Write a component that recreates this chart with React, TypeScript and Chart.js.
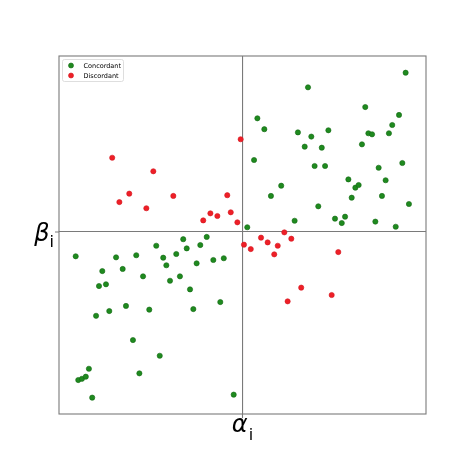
import React, { useEffect, useRef } from "react";
import { Chart, registerables } from "chart.js";

Chart.register(...registerables);

const seriesNames = ["Concordant", "Discordant"];
const seriesColors = ["#1f8a1f", "#ee1f27"];
const seriesEdges = ["#136813", "#d41820"];

const concordantX = [
  0.889, 0.357, 0.669, 0.853, 0.081, 0.816, 0.119, 0.302, 0.468, 0.375, 0.686, 0.706, 0.798,
  0.339, 0.432, 0.651, 0.063, 0.393, 0.45, 0.742, 0.871, 0.577, 0.78, 0.211, 0.615, 0.633,
  0.155, 0.595, 0.76, 0.413, 0.907, 0.284, 0.504, 0.559, 0.541, 0.724, 0.835, 0.026,
  -0.909, -0.689, -0.579, -0.47, -0.323, -0.195, -0.432, -0.361, -0.304, -0.23, -0.764,
  -0.653, -0.415, -0.25, -0.159, -0.102, -0.782, -0.744, -0.542, -0.395, -0.341, -0.286,
  -0.635, -0.726, -0.508, -0.268, -0.121, -0.798, -0.597, -0.451, -0.837, -0.895, -0.875,
  -0.854, -0.562, -0.819, -0.048,
];
const concordantY = [
  0.905, 0.822, 0.71, 0.665, 0.646, 0.608, 0.584, 0.566, 0.578, 0.542, 0.561, 0.555, 0.561,
  0.485, 0.479, 0.498, 0.409, 0.375, 0.375, 0.365, 0.392, 0.299, 0.294, 0.263, 0.252, 0.267,
  0.205, 0.195, 0.205, 0.146, 0.159, 0.064, 0.076, 0.087, 0.051, 0.059, 0.03, 0.027,
  -0.138, -0.144, -0.132, -0.078, -0.041, -0.028, -0.146, -0.125, -0.093, -0.074, -0.222,
  -0.21, -0.189, -0.178, -0.159, -0.149, -0.307, -0.297, -0.252, -0.277, -0.252, -0.326,
  -0.42, -0.449, -0.441, -0.438, -0.398, -0.476, -0.614, -0.703, -0.777, -0.841, -0.834,
  -0.822, -0.803, -0.941, -0.924,
];

const discordantX = [
  -0.71, -0.671, -0.617, -0.524, -0.486, -0.377, -0.214, -0.175, -0.137, -0.083, -0.064,
  -0.028, -0.01, 0.008, 0.045, 0.101, 0.137, 0.173, 0.192, 0.228, 0.266, 0.522, 0.32, 0.486,
  0.246,
];
const discordantY = [
  0.422, 0.17, 0.218, 0.135, 0.345, 0.205, 0.066, 0.106, 0.091, 0.209, 0.112, 0.055, 0.527,
  -0.072, -0.097, -0.032, -0.059, -0.127, -0.078, -0.002, -0.038, -0.114, -0.316, -0.358,
  -0.394,
];

const xRange = [-1, 1];
const yRange = [-1.034, 1];
const crossValue = 0;
const xLabel = ["α", "i"];
const yLabel = ["β", "i"];

const lineColor = "#7a7a7a";

const toPoints = (xs: number[], ys: number[]) => xs.map((x, i) => ({ x, y: ys[i] }));

const decorPlugin = {
  id: "decor",
  afterDraw(chart: any) {
    const { ctx, chartArea, scales } = chart;
    const xs = scales.x;
    const ys = scales.y;
    const x0 = xs.getPixelForValue(crossValue);
    const y0 = ys.getPixelForValue(crossValue);
    ctx.save();
    ctx.strokeStyle = lineColor;
    ctx.lineWidth = 1.1;
    ctx.strokeRect(chartArea.left, chartArea.top, chartArea.right - chartArea.left, chartArea.bottom - chartArea.top);
    ctx.beginPath();
    ctx.moveTo(x0, chartArea.bottom);
    ctx.lineTo(x0, chartArea.bottom + 4);
    ctx.moveTo(chartArea.left, y0);
    ctx.lineTo(chartArea.left - 4, y0);
    ctx.stroke();

    ctx.fillStyle = "#000";
    ctx.textBaseline = "alphabetic";
    ctx.font = "italic 24px 'DejaVu Sans'";
    const aW = ctx.measureText(xLabel[0]).width;
    ctx.font = "16px 'DejaVu Sans'";
    const iW = ctx.measureText(xLabel[1]).width;
    const totalX = aW + iW + 1;
    const ax = x0 - totalX / 2;
    ctx.font = "italic 24px 'DejaVu Sans'";
    ctx.textAlign = "left";
    ctx.fillText(xLabel[0], ax, chartArea.bottom + 18);
    ctx.font = "16px 'DejaVu Sans'";
    ctx.fillText(xLabel[1], ax + aW + 1, chartArea.bottom + 26);

    ctx.font = "italic 24px 'DejaVu Sans'";
    const bW = ctx.measureText(yLabel[0]).width;
    ctx.font = "16px 'DejaVu Sans'";
    const i2W = ctx.measureText(yLabel[1]).width;
    const right = chartArea.left - 5;
    ctx.fillText(yLabel[1], right - i2W, y0 + 15);
    ctx.font = "italic 24px 'DejaVu Sans'";
    ctx.fillText(yLabel[0], right - i2W - bW, y0 + 9);

    const lx = chartArea.left + 3.5;
    const ly = chartArea.top + 3.5;
    const lw = 61;
    const lh = 22;
    ctx.beginPath();
    const r = 2;
    ctx.moveTo(lx + r, ly);
    ctx.lineTo(lx + lw - r, ly);
    ctx.quadraticCurveTo(lx + lw, ly, lx + lw, ly + r);
    ctx.lineTo(lx + lw, ly + lh - r);
    ctx.quadraticCurveTo(lx + lw, ly + lh, lx + lw - r, ly + lh);
    ctx.lineTo(lx + r, ly + lh);
    ctx.quadraticCurveTo(lx, ly + lh, lx, ly + lh - r);
    ctx.lineTo(lx, ly + r);
    ctx.quadraticCurveTo(lx, ly, lx + r, ly);
    ctx.fillStyle = "rgba(255,255,255,0.8)";
    ctx.fill();
    ctx.strokeStyle = "#d6d6d6";
    ctx.lineWidth = 0.8;
    ctx.stroke();
    ctx.font = "6.5px 'DejaVu Sans'";
    ctx.textBaseline = "middle";
    seriesNames.forEach((name, i) => {
      const cy = ly + 6 + i * 10;
      ctx.beginPath();
      ctx.arc(lx + 8.5, cy, 2.5, 0, Math.PI * 2);
      ctx.fillStyle = seriesColors[i];
      ctx.fill();
      ctx.strokeStyle = seriesEdges[i];
      ctx.lineWidth = 0.6;
      ctx.stroke();
      ctx.fillStyle = "#000";
      ctx.fillText(name, lx + 21, cy + 0.5);
    });
    ctx.restore();
  },
};

export default function App() {
  const ref = useRef<HTMLCanvasElement | null>(null);
  useEffect(() => {
    if (!ref.current) return;
    const chart = new Chart(ref.current, {
      type: "scatter",
      data: {
        datasets: [
          {
            label: seriesNames[0],
            data: toPoints(concordantX, concordantY),
            backgroundColor: seriesColors[0],
            borderColor: seriesEdges[0],
            borderWidth: 0.6,
            pointRadius: 2.6,
          },
          {
            label: seriesNames[1],
            data: toPoints(discordantX, discordantY),
            backgroundColor: seriesColors[1],
            borderColor: seriesEdges[1],
            borderWidth: 0.6,
            pointRadius: 2.6,
          },
        ],
      },
      options: {
        animation: false,
        responsive: false,
        devicePixelRatio: 1,
        layout: { padding: { left: 59, top: 56, right: 48, bottom: 60 } },
        plugins: { legend: { display: false }, tooltip: { enabled: false } },
        scales: {
          x: {
            type: "linear",
            min: xRange[0],
            max: xRange[1],
            afterBuildTicks: (s: any) => {
              s.ticks = [{ value: crossValue }];
            },
            ticks: { display: false },
            grid: { color: lineColor, lineWidth: 1.1, drawTicks: false },
            border: { display: false },
          },
          y: {
            type: "linear",
            min: yRange[0],
            max: yRange[1],
            afterBuildTicks: (s: any) => {
              s.ticks = [{ value: crossValue }];
            },
            ticks: { display: false },
            grid: { color: lineColor, lineWidth: 1.1, drawTicks: false },
            border: { display: false },
          },
        },
      },
      plugins: [decorPlugin],
    });
    return () => chart.destroy();
  }, []);
  return (
    <div style={{ position: "absolute", left: 0, top: 0, width: 474, height: 474, background: "#fff" }}>
      <canvas ref={ref} width={474} height={474} style={{ width: 474, height: 474 }} />
    </div>
  );
}
